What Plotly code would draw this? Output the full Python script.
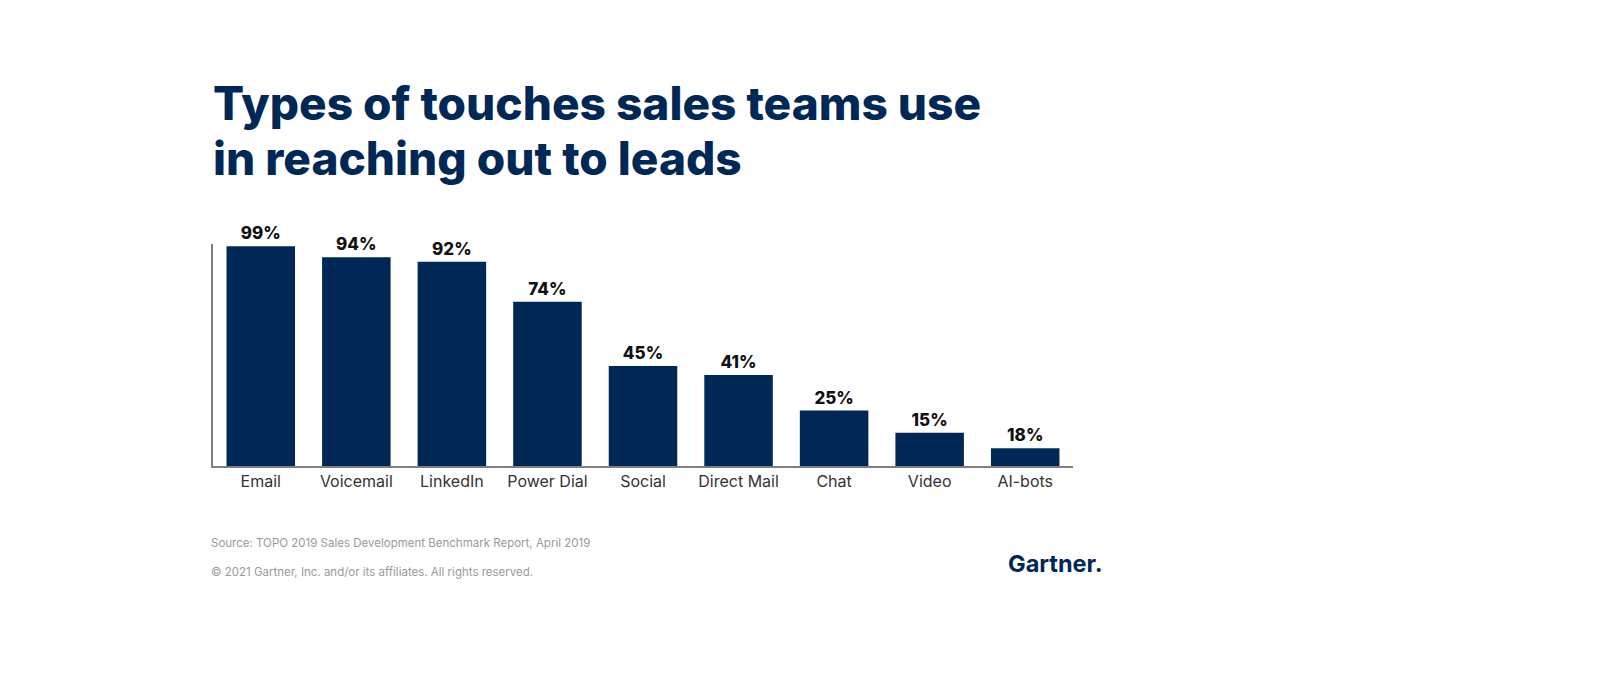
import plotly.graph_objects as go

categories = ["Email", "Voicemail", "LinkedIn", "Power Dial", "Social",
              "Direct Mail", "Chat", "Video", "AI-bots"]
bar_values = [99, 94, 92, 74, 45, 41, 25, 15, 8]
value_labels = ["99%", "94%", "92%", "74%", "45%", "41%", "25%", "15%", "18%"]

title_lines = ["Types of touches sales teams use", "in reaching out to leads"]
source_text = "Source: TOPO 2019 Sales Development Benchmark Report, April 2019"
copyright_text = "© 2021 Gartner, Inc. and/or its affiliates. All rights reserved."
logo_text = "Gartner."

NAVY = "#002856"
W, H = 1600, 678
L, R, T, B = 213, 527, 244, 212
pw, ph = W - L - R, H - T - B


def px(x):
    return (x - L) / pw


def py(y):
    return (H - B - y) / ph


fig = go.Figure(go.Bar(
    x=categories, y=bar_values, text=value_labels,
    textposition="outside", cliponaxis=False,
    marker=dict(color=NAVY, line=dict(width=0)),
    width=0.717,
    textfont=dict(family="Inter", size=17, color="#111111", weight=800),
    hoverinfo="skip",
))

annotations = []
for i, (line, yc) in enumerate(zip(title_lines, [103, 158])):
    annotations.append(dict(
        text=line, x=px(211), y=py(yc), xref="paper", yref="paper",
        xanchor="left", yanchor="middle", showarrow=False,
        font=dict(family="Inter", size=46, color=NAVY, weight=800)))
annotations.append(dict(
    text=source_text, x=px(209), y=py(543), xref="paper", yref="paper",
    xanchor="left", yanchor="middle", showarrow=False,
    font=dict(family="Inter", size=11.5, color="#9a9a9a")))
annotations.append(dict(
    text=copyright_text, x=px(209), y=py(572), xref="paper", yref="paper",
    xanchor="left", yanchor="middle", showarrow=False,
    font=dict(family="Inter", size=11.5, color="#9a9a9a")))
annotations.append(dict(
    text=logo_text, x=px(1006), y=py(563), xref="paper", yref="paper",
    xanchor="left", yanchor="middle", showarrow=False,
    font=dict(family="Inter", size=23.5, color=NAVY, weight=700)))

fig.update_layout(
    width=W, height=H, margin=dict(l=L, r=R, t=T, b=B, pad=0),
    paper_bgcolor="white", plot_bgcolor="white",
    showlegend=False, annotations=annotations,
    xaxis=dict(showline=True, linecolor="#7f7f7f", linewidth=1.5,
               showgrid=False, ticks="", range=[-0.5, 8.5],
               tickfont=dict(family="Inter", size=16, color="#333333")),
    yaxis=dict(showline=True, linecolor="#7f7f7f", linewidth=1.5,
               showgrid=False, zeroline=False, showticklabels=False,
               ticks="", range=[0, 100]),
)

fig.write_html("out.html",
               config={"displayModeBar": False},
               post_script="document.body.style.margin='0';"
                           "document.body.style.overflow='hidden';")
